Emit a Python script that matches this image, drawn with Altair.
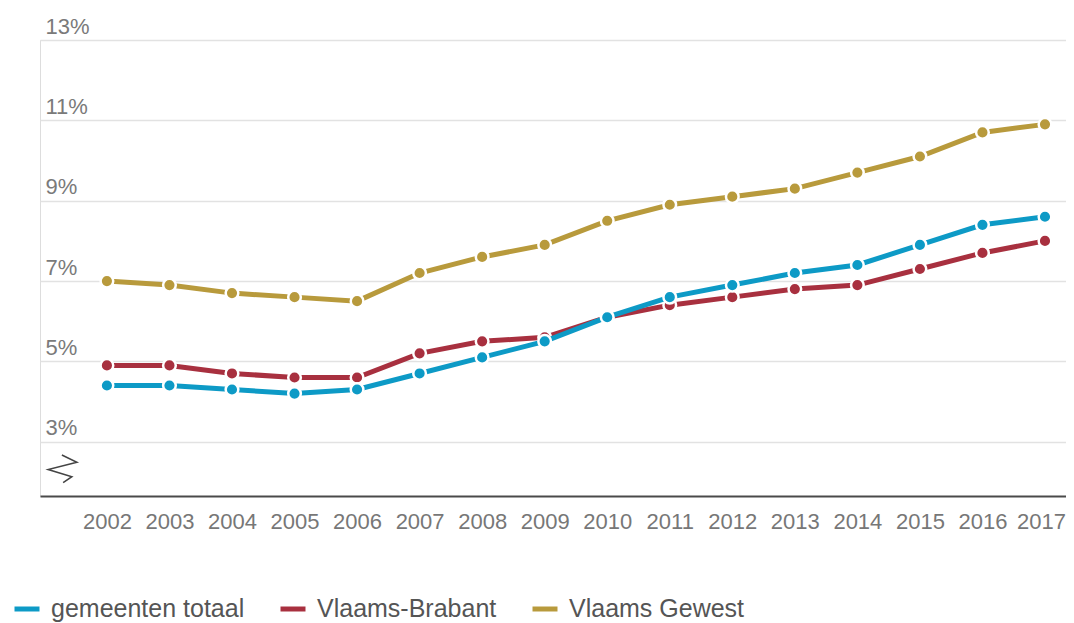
import altair as alt
import pandas as pd

years = list(range(2002, 2018))
series_names = ["gemeenten totaal", "Vlaams-Brabant", "Vlaams Gewest"]
colors = ["#0d9ac6", "#a8303f", "#b89a3c"]

gemeenten_totaal = [4.4, 4.4, 4.3, 4.2, 4.3, 4.7, 5.1, 5.5, 6.1, 6.6, 6.9, 7.2, 7.4, 7.9, 8.4, 8.6]
vlaams_brabant = [4.9, 4.9, 4.7, 4.6, 4.6, 5.2, 5.5, 5.6, 6.1, 6.4, 6.6, 6.8, 6.9, 7.3, 7.7, 8.0]
vlaams_gewest = [7.0, 6.9, 6.7, 6.6, 6.5, 7.2, 7.6, 7.9, 8.5, 8.9, 9.1, 9.3, 9.7, 10.1, 10.7, 10.9]

y_ticks = [3, 5, 7, 9, 11, 13]

# axis-break glyph (decoration), in data units
break_x = [2001.28, 2001.52, 2001.06, 2001.44, 2001.30]
break_y = [2.67, 2.49, 2.31, 2.13, 1.98]

rows = []
for name, vals in zip(series_names, [gemeenten_totaal, vlaams_brabant, vlaams_gewest]):
    for yr, v in zip(years, vals):
        rows.append({"jaar": yr, "waarde": v, "reeks": name})
df = pd.DataFrame(rows)
brk = pd.DataFrame({"x": break_x, "y": break_y, "i": list(range(len(break_x)))})

FONT = "Liberation Sans"

x_scale = alt.Scale(domain=[2000.93, 2017.336], nice=False, zero=False)
y_scale = alt.Scale(domain=[1.65, 13], nice=False, zero=False)
color_scale = alt.Scale(domain=series_names, range=colors)

x_axis = alt.Axis(
    values=years, format="d", grid=False, ticks=False, tickSize=0,
    labelPadding=15, labelFontSize=22, labelColor="#777777", labelFont=FONT,
    domainColor="#4a4a4a", domainWidth=2, title=None, labelFlush=False,
    labelOffset={"condition": {"test": "datum.value === 2017", "value": -4}, "value": 0},
)
y_axis = alt.Axis(
    values=y_ticks, labelExpr="datum.value + '%'", grid=True, gridColor="#e2e2e2",
    gridWidth=1.5, ticks=False, tickSize=0, domain=False, labelAlign="left",
    labelPadding=-5, labelBaseline="alphabetic", labelOffset=-7,
    labelFontSize=22, labelColor="#7a7a7a", labelFont=FONT, title=None,
)

legend = alt.Legend(
    title=None, orient="none", direction="horizontal", legendX=-28, legendY=554,
    symbolType="stroke", symbolStrokeWidth=5, symbolSize=625, labelFontSize=25,
    labelColor="#555555", labelFont=FONT, labelOffset=9, columnPadding=25,
    labelLimit=400,
)

layers = []
for idx in [2, 1, 0]:
    name = series_names[idx]
    base = alt.Chart(df).transform_filter(alt.datum.reeks == name)
    line = base.mark_line(strokeWidth=5).encode(
        x=alt.X("jaar:Q", scale=x_scale, axis=x_axis),
        y=alt.Y("waarde:Q", scale=y_scale, axis=y_axis),
        color=alt.Color("reeks:N", scale=color_scale, legend=legend),
    )
    pts = base.mark_circle(size=160, opacity=1, stroke="white", strokeWidth=2.5).encode(
        x="jaar:Q",
        y="waarde:Q",
        color=alt.Color("reeks:N", scale=color_scale, legend=legend),
    )
    layers += [line, pts]

brk_layer = alt.Chart(brk).mark_line(color="#444444", strokeWidth=1.5).encode(
    x="x:Q", y="y:Q", order="i:Q"
)

chart = alt.layer(*layers, brk_layer).properties(
    width=1026,
    height=456,
    padding={"left": 32, "top": 32, "right": 0, "bottom": 127},
    autosize=alt.AutoSizeParams(type="none"),
).configure_view(stroke=None).configure(background="white")

chart.save("out.html", embed_options={"renderer": "svg", "actions": False})
